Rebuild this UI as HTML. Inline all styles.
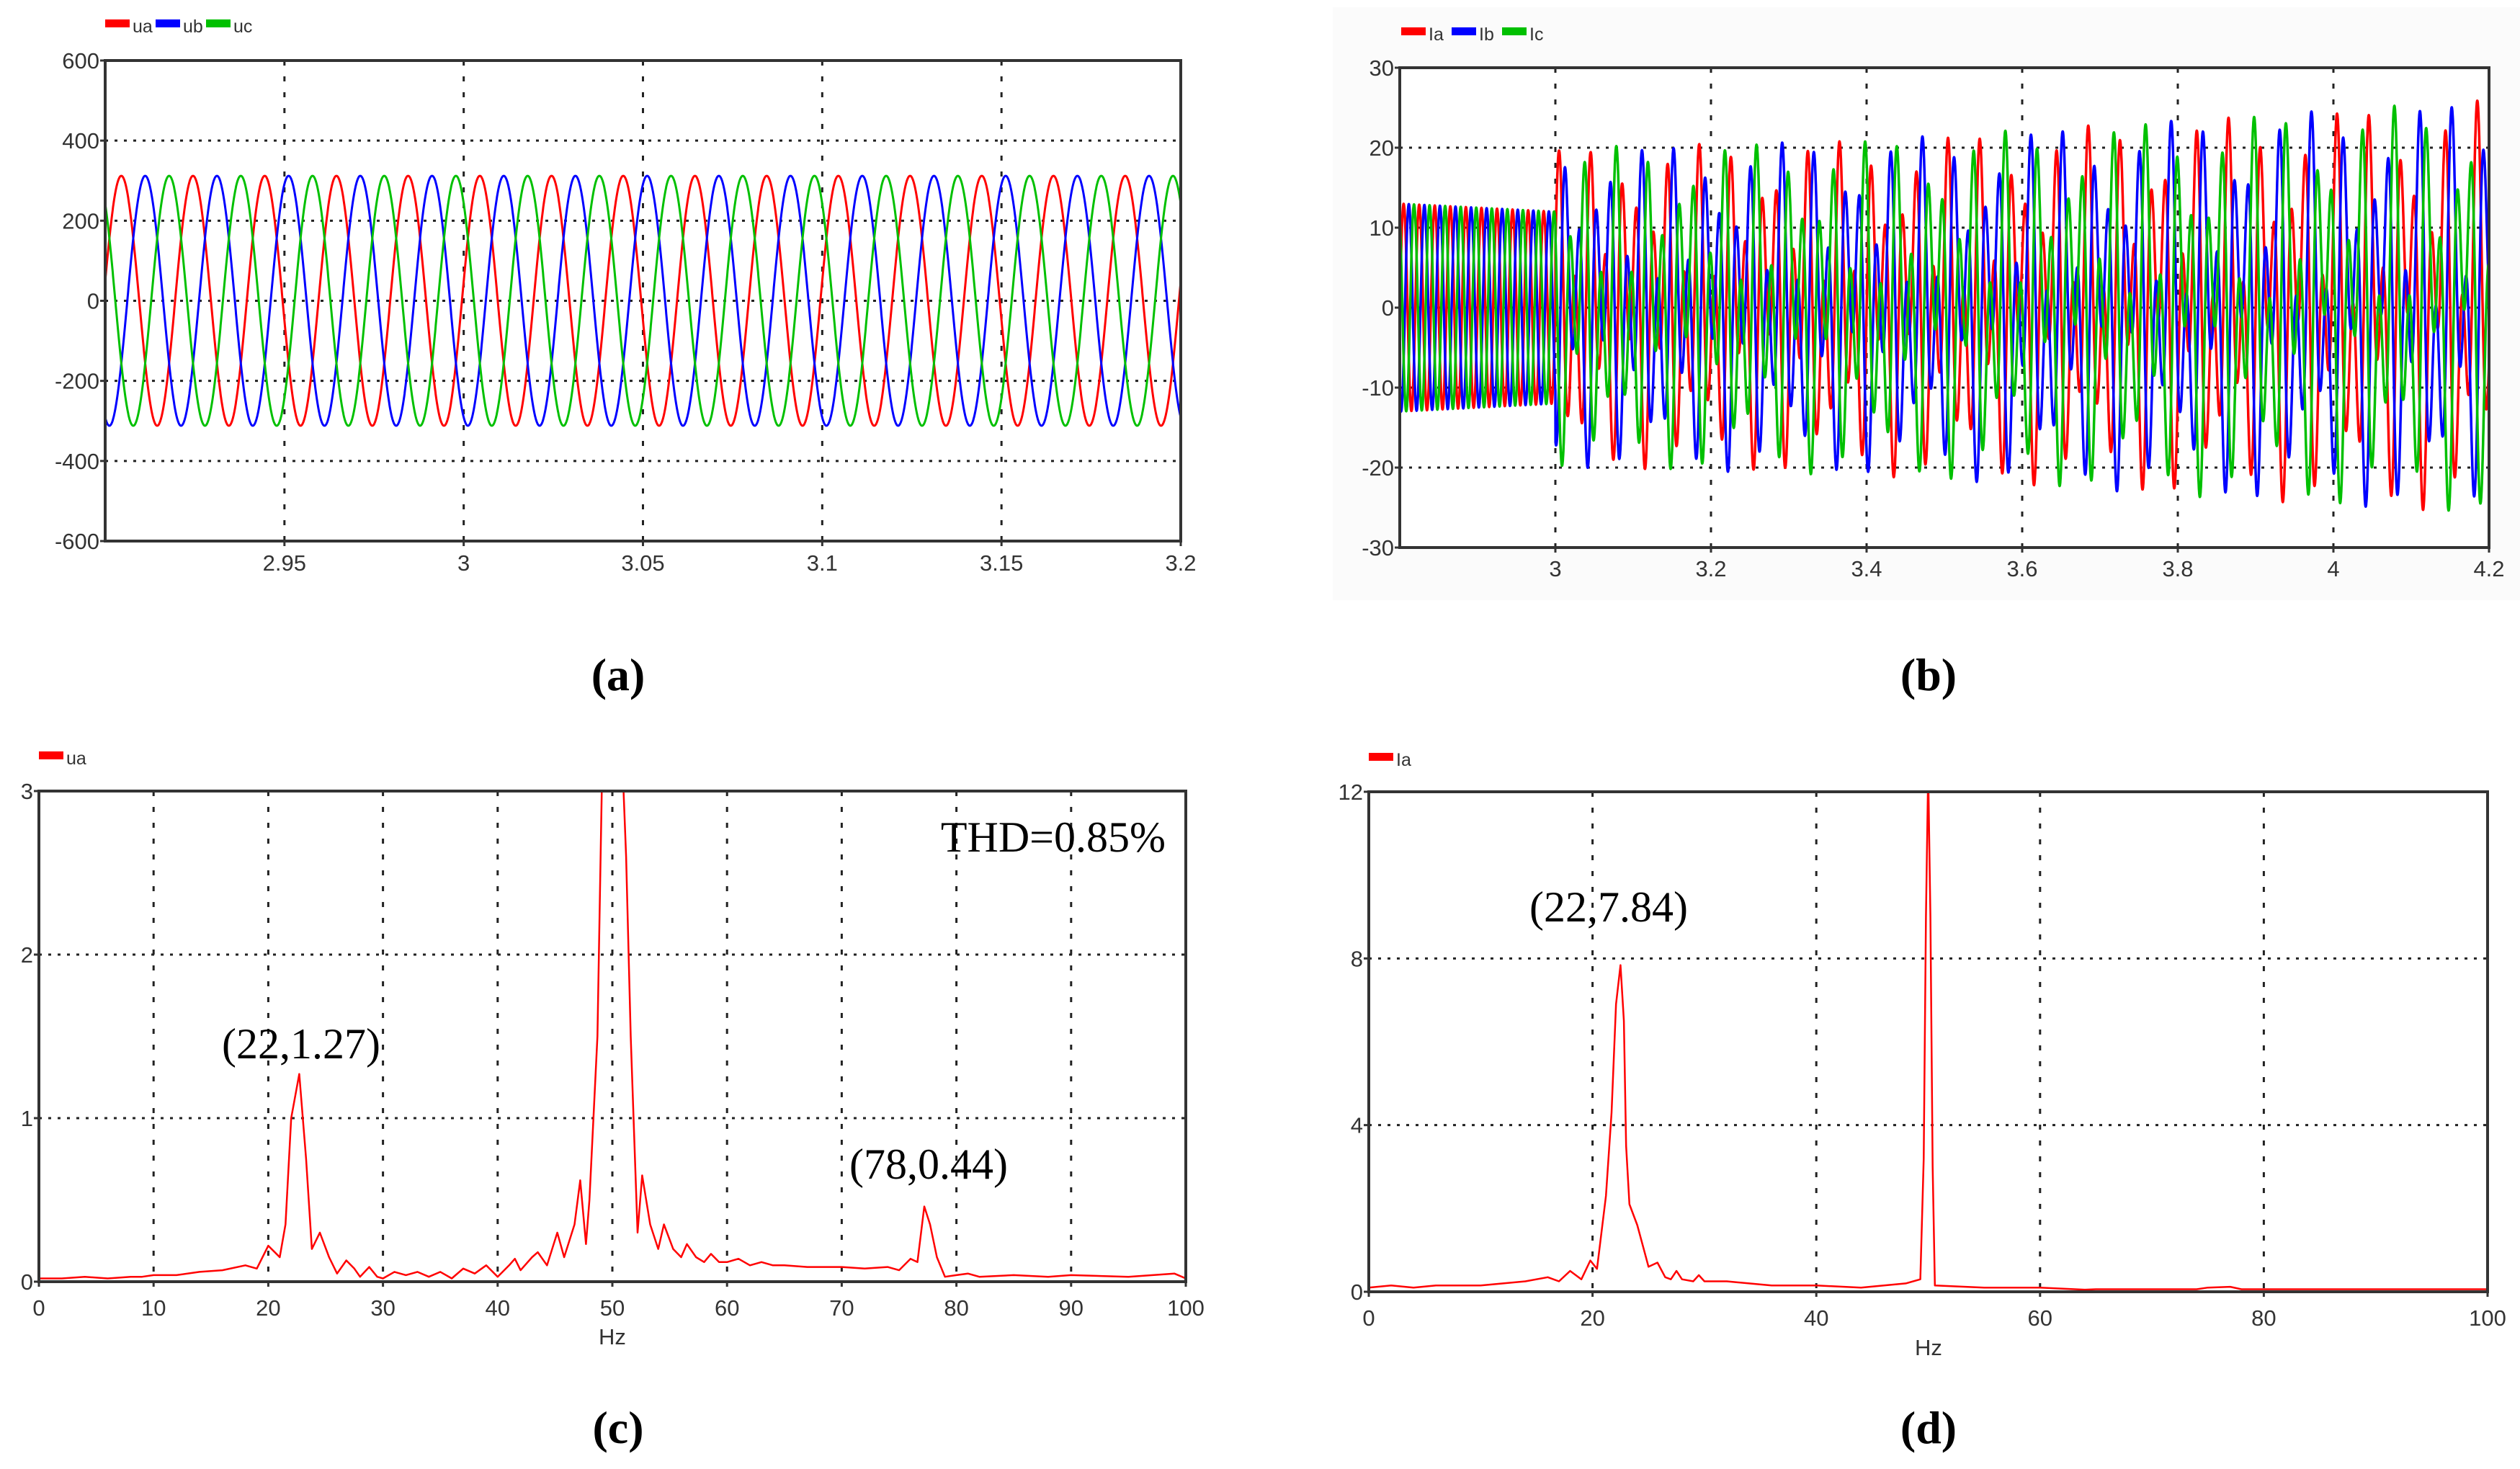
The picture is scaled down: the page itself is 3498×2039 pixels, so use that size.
<!DOCTYPE html>
<html><head><meta charset="utf-8">
<style>
html,body{margin:0;padding:0;background:#fff;}
svg{display:block;}
.tick{font-family:"Liberation Sans",sans-serif;font-size:31px;fill:#333;}
.leg{font-family:"Liberation Sans",sans-serif;font-size:25px;fill:#333;}
.ann{font-family:"Liberation Serif",serif;font-size:60px;fill:#000;}
.cap{font-family:"Liberation Serif",serif;font-size:64px;fill:#000;}
</style></head>
<body>
<svg id="fig" xmlns="http://www.w3.org/2000/svg" width="3498" height="2039" viewBox="0 0 3498 2039">
<rect x="1850" y="10" width="1648" height="823" fill="#fbfbfb"/>
</svg>
<script>
// ---------- Panel (a) : three-phase voltage, parameters ----------
const aXTicks = [2.95, 3, 3.05, 3.1, 3.15, 3.2];
const aXTickLabels = ["2.95","3","3.05","3.1","3.15","3.2"];
const aYTicks = [-600,-400,-200,0,200,400,600];
const aAmplitude = [312, 312, 312];
const aFreq = [50, 50, 50];
const aPhaseDeg = [9, -111, -231];
// ---------- Panel (b) : three-phase current ----------
const bXTicks = [3, 3.2, 3.4, 3.6, 3.8, 4, 4.2];
const bXTickLabels = ["3","3.2","3.4","3.6","3.8","4","4.2"];
const bYTicks = [-30,-20,-10,0,10,20,30];
const bEnvTimes = [2.8, 3.0, 3.4, 3.8, 4.2];
const bAmp50 = [13, 12, 12, 12.5, 13];
const bAmp22 = [0, 8, 9, 11, 13];
const bPhaseDeg = [0, -120, -240];
// ---------- Panel (c) : ua spectrum ----------
const cXTicks = [0,10,20,30,40,50,60,70,80,90,100];
const cYTicks = [0,1,2,3];
const cFreq = [0,2,4,6,8,9,10,12,14,16,18,19,20,21,21.5,22,22.7,23.3,23.8,24.5,25.3,26,26.8,27.5,28,28.8,29.5,30,31,32,33,34,35,36,37,38,39,40,41,41.5,42,43,43.5,44.3,45.2,45.8,46.7,47.2,47.7,48,48.7,49.2,50.7,51.2,51.6,52,52.2,52.6,53.3,54,54.5,55.3,56,56.5,57.3,58,58.6,59.3,60,61,62,63,64,65,67,70,72,74,75,76,76.6,77.2,77.7,78.3,79,80,81,82,85,88,90,95,99,100];
const cMag  = [0.02,0.02,0.03,0.02,0.03,0.03,0.04,0.04,0.06,0.07,0.1,0.08,0.22,0.15,0.35,1.0,1.27,0.75,0.2,0.3,0.15,0.05,0.13,0.08,0.03,0.09,0.03,0.02,0.06,0.04,0.06,0.03,0.06,0.02,0.08,0.05,0.1,0.03,0.1,0.14,0.07,0.15,0.18,0.1,0.3,0.15,0.35,0.62,0.23,0.5,1.5,3.5,3.5,2.6,1.5,0.7,0.3,0.65,0.35,0.2,0.35,0.2,0.15,0.23,0.15,0.12,0.17,0.12,0.12,0.14,0.1,0.12,0.1,0.1,0.09,0.09,0.08,0.09,0.07,0.14,0.12,0.46,0.35,0.15,0.03,0.04,0.05,0.03,0.04,0.03,0.04,0.03,0.05,0.02];
// ---------- Panel (d) : Ia spectrum ----------
const dXTicks = [0,20,40,60,80,100];
const dYTicks = [0,4,8,12];
const dFreq = [0,2,4,6,8,10,12,14,16,17,18,19,19.8,20.4,21.2,21.7,22.1,22.5,22.8,23,23.3,24,25,25.8,26.5,27,27.5,28,29,29.5,30,32,34,36,40,44,48,49.3,49.6,49.8,50,50.2,50.4,50.6,55,60,64,65,74,75,77,78,100];
const dMag  = [0.1,0.15,0.1,0.15,0.15,0.15,0.2,0.25,0.35,0.25,0.5,0.3,0.75,0.55,2.3,4.3,6.9,7.84,6.5,3.5,2.1,1.6,0.6,0.7,0.35,0.3,0.5,0.3,0.25,0.4,0.25,0.25,0.2,0.15,0.15,0.1,0.2,0.3,3.2,9,12.5,9,3,0.15,0.1,0.1,0.05,0.06,0.06,0.1,0.12,0.06,0.06];

const NS = "http://www.w3.org/2000/svg";
const svg = document.getElementById('fig');
function mk(tag, attrs, parent){
  const e = document.createElementNS(NS, tag);
  for (const k in attrs) e.setAttribute(k, attrs[k]);
  (parent||svg).appendChild(e);
  return e;
}
function txt(s, x, y, cls, anchor, parent){
  const t = mk('text', {x:x, y:y, class:cls, 'text-anchor':anchor||'start'}, parent);
  t.textContent = s;
  return t;
}
function scale(d0,d1,r0,r1){ return v => r0 + (v-d0)/(d1-d0)*(r1-r0); }

function panel(id, L, T, R, B, xmin, xmax, ymin, ymax, xticks, xlabels, yticks, ylabels, labelY){
  const g = mk('g', {});
  
  
  const sx = scale(xmin,xmax,L,R), sy = scale(ymin,ymax,B,T);
  mk('rect',{x:L,y:T,width:R-L,height:B-T,fill:'#fff'},g);
  const cp = mk('clipPath',{id:id+'-clip'},g);
  mk('rect',{x:L,y:T,width:R-L,height:B-T},cp);
  const grid = mk('g',{},g);
  
  
  xticks.forEach(v=>{ if(v>xmin && v<xmax) mk('line',{x1:sx(v),x2:sx(v),y1:T,y2:B,stroke:'#222','stroke-width':3,'stroke-dasharray':'7 15'},grid); });
  yticks.forEach(v=>{ if(v>ymin && v<ymax) mk('line',{x1:L,x2:R,y1:sy(v),y2:sy(v),stroke:'#222','stroke-width':3,'stroke-dasharray':'4 9'},grid); });
  const ax = mk('g',{},g);
  
  
  xticks.forEach((v,i)=>{
    mk('line',{x1:sx(v),x2:sx(v),y1:B,y2:B+7,stroke:'#333','stroke-width':3},ax);
    txt(xlabels[i], sx(v), labelY, 'tick', 'middle', ax);
  });
  const ay = mk('g',{},g);
  
  
  yticks.forEach((v,i)=>{
    mk('line',{x1:L-7,x2:L,y1:sy(v),y2:sy(v),stroke:'#333','stroke-width':3},ay);
    txt(ylabels[i], L-8, sy(v)+11, 'tick', 'end', ay);
  });
  return {g, sx, sy, L, T, R, B, clip:'url(#'+id+'-clip)'};
}
function frame(p){
  const f = mk('rect',{x:p.L,y:p.T,width:p.R-p.L,height:p.B-p.T,fill:'none',stroke:'#333','stroke-width':4},p.g);
  
  
}
function legend(items, x, y){
  let cx = x;
  items.forEach(it=>{
    const lg = mk('g',{});
    
    
    mk('rect',{x:cx,y:y-10,width:34,height:11,fill:it[1]},lg);
    txt(it[0], cx+38, y+8, 'leg', 'start', lg);
    cx += 38 + it[0].length*13 + 6;
  });
}
function polyline(p, pts, color, w, name){
  const d = pts.map((q,i)=>(i?'L':'M')+q[0].toFixed(1)+' '+q[1].toFixed(1)).join('');
  const e = mk('path',{d:d,fill:'none',stroke:color,'stroke-width':w,'clip-path':p.clip,'stroke-linejoin':'round'},p.g);
  
  
}
function interp(xs, ys, t){
  if (t<=xs[0]) return ys[0];
  for (let i=1;i<xs.length;i++) if (t<=xs[i]) { const f=(t-xs[i-1])/(xs[i]-xs[i-1]); return ys[i-1]+f*(ys[i]-ys[i-1]); }
  return ys[ys.length-1];
}
const colors = ['#ff0000','#0000ff','#00c000'];

// ---- (a)
{
  const p = panel('panel-a-voltage',146,84,1639,751,2.9,3.2,-600,600,aXTicks,aXTickLabels,aYTicks,aYTicks.map(String),792);
  ['ua','ub','uc'].forEach((nm,k)=>{
    const pts=[];
    for(let i=0;i<=3000;i++){ const t=2.9+0.3*i/3000;
      pts.push([p.sx(t), p.sy(aAmplitude[k]*Math.sin(2*Math.PI*aFreq[k]*(t-2.9)+aPhaseDeg[k]*Math.PI/180))]); }
    polyline(p, pts, colors[k], 3, 'series-'+nm);
  });
  frame(p);
  legend([['ua','#ff0000'],['ub','#0000ff'],['uc','#00c000']],146,37);
  const c = txt('(a)',858,958,'cap','middle');  
}
// ---- (b)
{
  const p = panel('panel-b-current',1943,94,3455,760,2.8,4.2,-30,30,bXTicks,bXTickLabels,bYTicks,bYTicks.map(String),800);
  ['ia','ib','ic'].forEach((nm,k)=>{
    const pts=[]; const ph=bPhaseDeg[k]*Math.PI/180;
    for(let i=0;i<=6000;i++){ const t=2.8+1.4*i/6000;
      let v = interp(bEnvTimes,bAmp50,t)*Math.sin(2*Math.PI*50*t+ph);
      if (t>=3.0) v += interp(bEnvTimes,bAmp22,t)*Math.sin(2*Math.PI*22*(t-3.0)+ph+1.2);
      pts.push([p.sx(t), p.sy(v)]); }
    polyline(p, pts, colors[k], 3.5, 'series-'+nm);
  });
  frame(p);
  legend([['Ia','#ff0000'],['Ib','#0000ff'],['Ic','#00c000']],1945,48);
  const c = txt('(b)',2677,958,'cap','middle');  
}
// ---- (c)
{
  const p = panel('panel-c-ua-spectrum',54,1098,1646,1779,0,100,0,3,cXTicks,cXTicks.map(String),cYTicks,cYTicks.map(String),1826);
  polyline(p, cFreq.map((f,i)=>[p.sx(f),p.sy(cMag[i])]), '#ff0000', 2.5, 'series-ua-spectrum');
  frame(p);
  legend([['ua','#ff0000']],54,1053);
  txt('Hz',850,1866,'tick','middle');
  let a=txt('THD=0.85%',1618,1182,'ann','end');  
  a=txt('(22,1.27)',418,1469,'ann','middle');  
  a=txt('(78,0.44)',1289,1636,'ann','middle');  
  const c = txt('(c)',858,2003,'cap','middle');  
}
// ---- (d)
{
  const p = panel('panel-d-ia-spectrum',1900,1099,3453,1793,0,100,0,12,dXTicks,dXTicks.map(String),dYTicks,dYTicks.map(String),1840);
  polyline(p, dFreq.map((f,i)=>[p.sx(f),p.sy(dMag[i])]), '#ff0000', 2.5, 'series-ia-spectrum');
  frame(p);
  legend([['Ia','#ff0000']],1900,1055);
  txt('Hz',2677,1881,'tick','middle');
  const a=txt('(22,7.84)',2233,1279,'ann','middle');  
  const c = txt('(d)',2677,2003,'cap','middle');  
}
document.querySelectorAll('.cap').forEach(e=>e.style.fontWeight='bold');
</script>
</body></html>
